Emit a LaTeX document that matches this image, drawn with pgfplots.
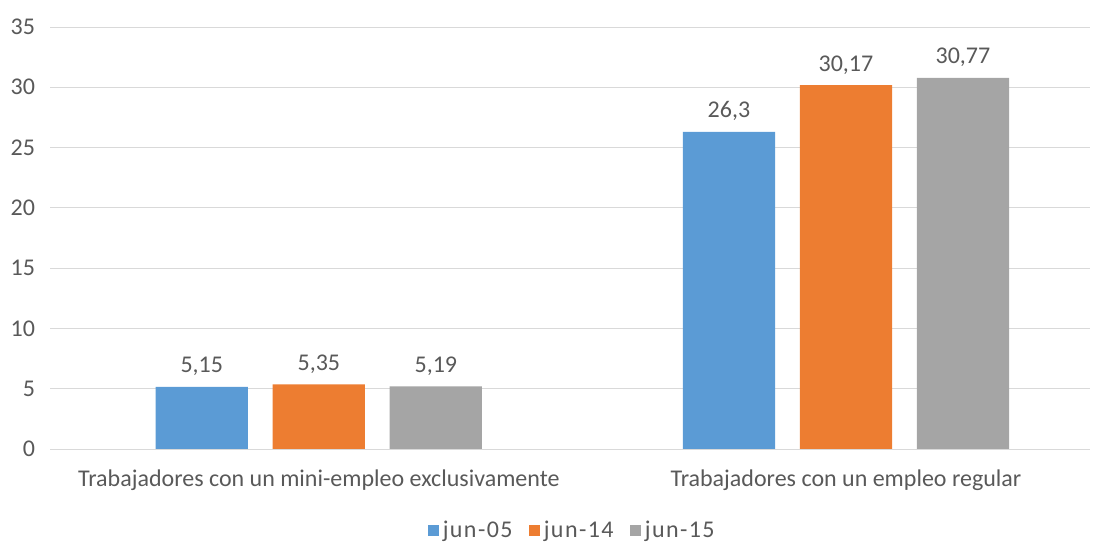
\documentclass[border=0pt]{standalone}
\usepackage{fontspec}
\setmainfont{Carlito}
\usepackage{pgfplots}
\pgfplotsset{compat=1.18}
\definecolor{cblue}{HTML}{5B9BD5}
\definecolor{corange}{HTML}{ED7D31}
\definecolor{cgray}{HTML}{A5A5A5}
\definecolor{txt}{HTML}{595959}
\definecolor{gridc}{HTML}{D9D9D9}
\begin{document}
\begin{tikzpicture}
\begin{axis}[name=ax,scale only axis,width=520pt,height=211pt,
  ybar,bar width=0.175,
  ymin=0,ymax=35,ytick={0,5,...,35},
  xmin=-0.51,xmax=1.463,xtick={0,1},
  xticklabels={Trabajadores con un mini-empleo exclusivamente,Trabajadores con un empleo regular},
  axis x line*=bottom,axis y line*=left,
  x axis line style={gridc,-},y axis line style={draw=none},
  ymajorgrids=true,grid style={gridc},
  major tick length=0pt,
  tick label style={font=\fontsize{12}{14}\selectfont,text=txt},
  xticklabel style={yshift=-7pt},
  yticklabel style={xshift=-4pt},
  /pgf/number format/assume math mode=true,
  nodes near coords,point meta=explicit symbolic,
  nodes near coords style={font=\fontsize{12}{14}\selectfont,text=txt,yshift=2pt},
  legend columns=3,
  legend style={at={(0.503,-0.194)},anchor=center,draw=none,font=\fontsize{12}{14}\selectfont\addfontfeatures{LetterSpace=6},text=txt,
    /tikz/every even column/.append style={column sep=6pt}},
  legend image code/.code={\fill[#1] (0pt,-2.8pt) rectangle (5.6pt,2.8pt);},
  clip=false]
\addplot[fill=cblue,draw=none,bar shift=-0.222] coordinates {(0,5.15) [5,15] (1,26.3) [26,3]};
\addlegendentry{jun-05}
\addplot[fill=corange,draw=none,bar shift=0] coordinates {(0,5.35) [5,35] (1,30.17) [30,17]};
\addlegendentry{jun-14}
\addplot[fill=cgray,draw=none,bar shift=0.222] coordinates {(0,5.19) [5,19] (1,30.77) [30,77]};
\addlegendentry{jun-15}
\end{axis}
\path[use as bounding box] ([xshift=-25pt,yshift=-47pt]ax.south west) rectangle ([xshift=3pt,yshift=13.5pt]ax.north east);
\end{tikzpicture}
\end{document}
